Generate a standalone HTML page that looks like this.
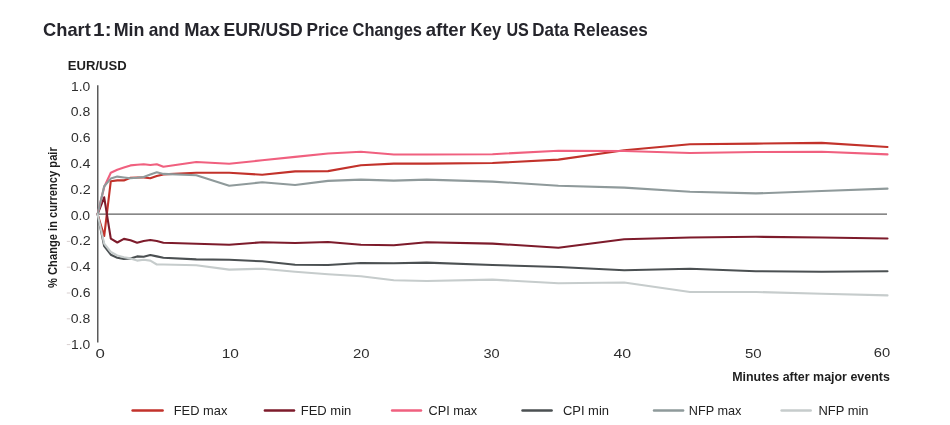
<!DOCTYPE html>
<html><head><meta charset="utf-8"><title>Chart 1</title>
<style>
html,body{margin:0;padding:0;background:#fff;}
body{width:950px;height:425px;overflow:hidden;font-family:"Liberation Sans",sans-serif;}
svg{display:block}
text{font-family:"Liberation Sans",sans-serif;}
.title{font-size:19px;font-weight:bold;fill:#25252c;}
.tk{font-size:13px;fill:#2e2e2e;}
.lg{font-size:13px;fill:#222;}
.rl{font-size:13.5px;font-weight:bold;fill:#1e1e1e;}
.b{font-size:13px;font-weight:bold;fill:#1e1e1e;}
.eu{font-size:13px;font-weight:bold;fill:#1e1e1e;}
</style></head><body>
<svg width="950" height="425" viewBox="0 0 950 425">
<rect width="950" height="425" fill="#fff"/>
<text y="35.8" class="title"><tspan x="43.01" textLength="47.80" lengthAdjust="spacingAndGlyphs">Chart</tspan> <tspan x="93.14" textLength="18.41" lengthAdjust="spacingAndGlyphs">1:</tspan> <tspan x="113.74" textLength="30.78" lengthAdjust="spacingAndGlyphs">Min</tspan> <tspan x="148.69" textLength="30.82" lengthAdjust="spacingAndGlyphs">and</tspan> <tspan x="184.36" textLength="35.62" lengthAdjust="spacingAndGlyphs">Max</tspan> <tspan x="223.49" textLength="79.15" lengthAdjust="spacingAndGlyphs">EUR/USD</tspan> <tspan x="306.53" textLength="42.16" lengthAdjust="spacingAndGlyphs">Price</tspan> <tspan x="352.56" textLength="69.46" lengthAdjust="spacingAndGlyphs">Changes</tspan> <tspan x="425.65" textLength="40.30" lengthAdjust="spacingAndGlyphs">after</tspan> <tspan x="470.60" textLength="30.75" lengthAdjust="spacingAndGlyphs">Key</tspan> <tspan x="506.40" textLength="22.42" lengthAdjust="spacingAndGlyphs">US</tspan> <tspan x="532.28" textLength="36.73" lengthAdjust="spacingAndGlyphs">Data</tspan> <tspan x="573.54" textLength="74.35" lengthAdjust="spacingAndGlyphs">Releases</tspan></text>
<text x="67.81" y="70.3" class="eu" textLength="58.81" lengthAdjust="spacingAndGlyphs">EUR/USD</text>
<text x="71.05" y="90.6" class="tk" textLength="19.28" lengthAdjust="spacingAndGlyphs">1.0</text>
<text x="70.82" y="116.4" class="tk" textLength="19.52" lengthAdjust="spacingAndGlyphs">0.8</text>
<text x="70.98" y="142.2" class="tk" textLength="19.45" lengthAdjust="spacingAndGlyphs">0.6</text>
<text x="70.45" y="168.0" class="tk" textLength="20.06" lengthAdjust="spacingAndGlyphs">0.4</text>
<text x="70.64" y="193.8" class="tk" textLength="20.03" lengthAdjust="spacingAndGlyphs">0.2</text>
<text x="70.70" y="219.6" class="tk" textLength="19.47" lengthAdjust="spacingAndGlyphs">0.0</text>
<text x="70.64" y="245.4" class="tk" textLength="20.03" lengthAdjust="spacingAndGlyphs">0.2</text>
<text x="70.45" y="271.2" class="tk" textLength="20.06" lengthAdjust="spacingAndGlyphs">0.4</text>
<text x="70.98" y="297.0" class="tk" textLength="19.45" lengthAdjust="spacingAndGlyphs">0.6</text>
<text x="70.82" y="322.8" class="tk" textLength="19.52" lengthAdjust="spacingAndGlyphs">0.8</text>
<text x="71.05" y="348.6" class="tk" textLength="19.28" lengthAdjust="spacingAndGlyphs">1.0</text>
<text x="95.55" y="357.6" class="tk" textLength="9.36" lengthAdjust="spacingAndGlyphs">0</text>
<text x="221.68" y="357.6" class="tk" textLength="17.19" lengthAdjust="spacingAndGlyphs">10</text>
<text x="352.97" y="357.6" class="tk" textLength="16.58" lengthAdjust="spacingAndGlyphs">20</text>
<text x="483.40" y="357.6" class="tk" textLength="16.19" lengthAdjust="spacingAndGlyphs">30</text>
<text x="613.42" y="357.6" class="tk" textLength="17.70" lengthAdjust="spacingAndGlyphs">40</text>
<text x="744.90" y="357.6" class="tk" textLength="16.69" lengthAdjust="spacingAndGlyphs">50</text>
<text x="873.82" y="356.6" class="tk" textLength="16.37" lengthAdjust="spacingAndGlyphs">60</text>
<text x="732.18" y="380.5" class="b" textLength="157.66" lengthAdjust="spacingAndGlyphs">Minutes after major events</text>
<text x="173.78" y="414.5" class="lg" textLength="53.58" lengthAdjust="spacingAndGlyphs">FED max</text>
<text x="300.72" y="414.5" class="lg" textLength="50.57" lengthAdjust="spacingAndGlyphs">FED min</text>
<text x="428.53" y="414.5" class="lg" textLength="48.68" lengthAdjust="spacingAndGlyphs">CPI max</text>
<text x="562.88" y="414.5" class="lg" textLength="46.15" lengthAdjust="spacingAndGlyphs">CPI min</text>
<text x="688.82" y="414.5" class="lg" textLength="52.64" lengthAdjust="spacingAndGlyphs">NFP max</text>
<text x="818.48" y="414.5" class="lg" textLength="50.08" lengthAdjust="spacingAndGlyphs">NFP min</text>
<text transform="translate(56.5,287.6) rotate(-90)" x="-0.36" y="0" class="rl" textLength="140.76" lengthAdjust="spacingAndGlyphs">% Change in currency pair</text>
<line x1="66.8" y1="241.4" x2="70.2" y2="241.4" stroke="#d8cfcf" stroke-width="1"/>
<line x1="66.8" y1="267.2" x2="70.2" y2="267.2" stroke="#d8cfcf" stroke-width="1"/>
<line x1="66.8" y1="293.0" x2="70.2" y2="293.0" stroke="#d8cfcf" stroke-width="1"/>
<line x1="66.8" y1="318.8" x2="70.2" y2="318.8" stroke="#d8cfcf" stroke-width="1"/>
<line x1="66.8" y1="344.6" x2="70.2" y2="344.6" stroke="#d8cfcf" stroke-width="1"/>
<line x1="97.8" y1="85.3" x2="97.8" y2="342.4" stroke="#333" stroke-width="1.2"/>
<line x1="97.8" y1="214.2" x2="887" y2="214.2" stroke="#606060" stroke-width="1.2"/>
<path d="M97.6 214.2 L104.2 236.0 L110.8 181.2 L117.3 180.4 L123.9 180.4 L130.5 177.8 L137.1 177.5 L143.7 177.5 L150.3 178.3 L156.8 176.1 L163.4 174.4 L196.3 172.7 L229.2 172.7 L262.2 174.8 L295.1 171.4 L328.0 171.1 L360.9 165.3 L393.8 163.6 L426.7 163.6 L492.5 163.0 L558.4 159.6 L624.2 150.3 L690.0 144.2 L755.9 143.6 L821.7 142.9 L887.5 147.0" fill="none" stroke="#c2322b" stroke-width="2.1" stroke-linejoin="round" stroke-linecap="round"/>
<path d="M97.6 214.2 L104.2 197.3 L110.8 238.6 L117.3 242.5 L123.9 238.9 L130.5 240.3 L137.1 242.8 L143.7 241.0 L150.3 240.0 L156.8 241.0 L163.4 242.8 L196.3 243.7 L229.2 244.8 L262.2 242.3 L295.1 243.0 L328.0 242.0 L360.9 244.7 L393.8 245.3 L426.7 242.3 L492.5 243.6 L558.4 247.7 L624.2 239.2 L690.0 237.5 L755.9 236.8 L821.7 237.5 L887.5 238.5" fill="none" stroke="#7d1b2b" stroke-width="2.1" stroke-linejoin="round" stroke-linecap="round"/>
<path d="M97.6 214.2 L104.2 187.0 L110.8 172.7 L117.3 169.8 L123.9 167.6 L130.5 165.4 L137.1 164.7 L143.7 164.2 L150.3 165.0 L156.8 164.2 L163.4 166.8 L196.3 162.0 L229.2 163.7 L262.2 160.3 L295.1 156.9 L328.0 153.5 L360.9 151.8 L393.8 154.5 L426.7 154.5 L492.5 154.2 L558.4 150.8 L624.2 151.0 L690.0 153.0 L755.9 152.0 L821.7 151.7 L887.5 154.4" fill="none" stroke="#f0607f" stroke-width="2.1" stroke-linejoin="round" stroke-linecap="round"/>
<path d="M97.6 214.2 L104.2 246.2 L110.8 254.7 L117.3 257.7 L123.9 258.9 L130.5 258.4 L137.1 256.4 L143.7 256.7 L150.3 255.0 L156.8 256.4 L163.4 257.7 L196.3 259.4 L229.2 259.8 L262.2 261.3 L295.1 264.7 L328.0 265.0 L360.9 263.0 L393.8 263.3 L426.7 262.6 L492.5 265.0 L558.4 267.0 L624.2 270.2 L690.0 268.8 L755.9 271.2 L821.7 271.8 L887.5 271.2" fill="none" stroke="#4b5052" stroke-width="2.1" stroke-linejoin="round" stroke-linecap="round"/>
<path d="M97.6 214.2 L104.2 186.3 L110.8 178.6 L117.3 176.6 L123.9 177.5 L130.5 178.3 L137.1 177.8 L143.7 177.0 L150.3 174.4 L156.8 172.2 L163.4 173.9 L196.3 175.3 L229.2 185.8 L262.2 182.3 L295.1 185.0 L328.0 180.9 L360.9 179.6 L393.8 180.6 L426.7 179.6 L492.5 181.6 L558.4 185.7 L624.2 187.6 L690.0 191.7 L755.9 193.4 L821.7 191.0 L887.5 188.6" fill="none" stroke="#8f9a9b" stroke-width="2.1" stroke-linejoin="round" stroke-linecap="round"/>
<path d="M97.6 214.2 L104.2 243.7 L110.8 252.0 L117.3 255.5 L123.9 257.2 L130.5 258.4 L137.1 260.6 L143.7 259.8 L150.3 260.6 L156.8 264.5 L163.4 264.5 L196.3 265.2 L229.2 269.6 L262.2 268.7 L295.1 271.8 L328.0 274.2 L360.9 276.2 L393.8 280.3 L426.7 281.0 L492.5 279.6 L558.4 283.3 L624.2 282.5 L690.0 292.0 L755.9 292.0 L821.7 293.7 L887.5 295.4" fill="none" stroke="#c6cccc" stroke-width="2.1" stroke-linejoin="round" stroke-linecap="round"/>
<line x1="132.6" y1="410.5" x2="162.6" y2="410.5" stroke="#c2322b" stroke-width="2.5" stroke-linecap="round"/>
<line x1="264.9" y1="410.5" x2="294.0" y2="410.5" stroke="#7d1b2b" stroke-width="2.5" stroke-linecap="round"/>
<line x1="392.1" y1="410.5" x2="421.0" y2="410.5" stroke="#f0607f" stroke-width="2.5" stroke-linecap="round"/>
<line x1="522.5" y1="410.5" x2="551.6" y2="410.5" stroke="#4b5052" stroke-width="2.5" stroke-linecap="round"/>
<line x1="654.0" y1="410.5" x2="683.1" y2="410.5" stroke="#8f9a9b" stroke-width="2.5" stroke-linecap="round"/>
<line x1="781.6" y1="410.5" x2="810.7" y2="410.5" stroke="#c6cccc" stroke-width="2.5" stroke-linecap="round"/>
</svg>
</body></html>
